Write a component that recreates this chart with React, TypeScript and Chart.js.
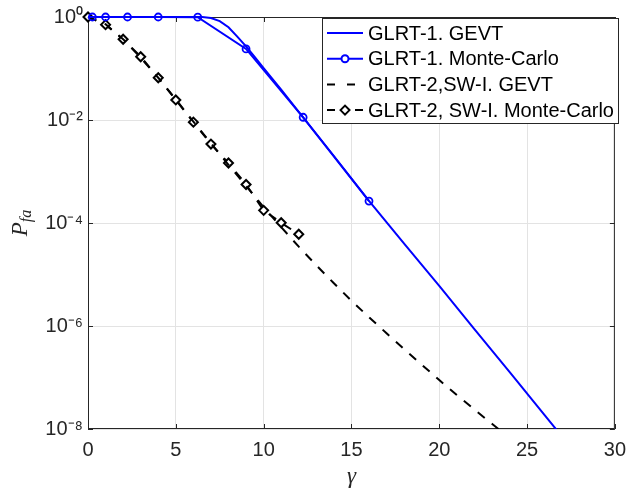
import React, { useEffect, useRef } from "react";
import { Chart, registerables } from "chart.js";

Chart.register(...registerables);

// ---- data ----
const seriesLabels = [
  "GLRT-1. GEVT",
  "GLRT-1. Monte-Carlo",
  "GLRT-2,SW-I. GEVT",
  "GLRT-2, SW-I. Monte-Carlo",
];

const gammaGevt1 = [0, 1, 2, 3, 4, 5, 6, 6.5, 7, 7.5, 8, 8.5, 9, 9.5, 10, 11, 12, 14, 16, 18, 20, 22, 24, 26, 28];
const pfaGevt1 = [1, 1, 1, 1, 1, 1, 1, 1, 0.955, 0.832, 0.631, 0.417, 0.269, 0.166, 0.102, 0.0389, 0.01445, 2.0e-3, 2.69e-4, 3.98e-5, 6.03e-6, 8.71e-7, 1.29e-7, 1.86e-8, 2.69e-9];

const gammaMc1 = [0.25, 1, 2.25, 4, 6.25, 9, 12.25, 16];
const pfaMc1 = [1, 1, 1, 1, 0.99, 0.24, 0.0113, 2.66e-4];

const gammaGevt2 = [0, 1, 2, 3, 4, 5, 6, 7, 8, 9, 10, 11, 12, 13, 14, 15, 16, 17, 18, 19, 20, 21, 22, 23, 24];
const pfaGevt2 = [1, 0.724, 0.372, 0.162, 0.0661, 0.0251, 9.33e-3, 3.55e-3, 1.35e-3, 5.25e-4, 2.04e-4, 8.32e-5, 3.47e-5, 1.51e-5, 6.76e-6, 3.09e-6, 1.48e-6, 7.24e-7, 3.55e-7, 1.78e-7, 8.91e-8, 4.57e-8, 2.4e-8, 1.26e-8, 6.76e-9];

const gammaMc2 = [0, 1, 2, 3, 4, 5, 6, 7, 8, 9, 10, 11, 12];
const pfaMc2 = [1, 0.71, 0.37, 0.169, 0.0662, 0.0245, 9.08e-3, 3.41e-3, 1.46e-3, 5.6e-4, 1.76e-4, 1.01e-4, 6.05e-5];

const xTickValues = [0, 5, 10, 15, 20, 25, 30];
const yTickExponents = [0, -2, -4, -6, -8];
const xTitle = "γ";
const yTitleMain = "P";
const yTitleSub = "fa";

// ---- styles ----
const BLUE = "#0000ff";
const AXIS = "#262626";
const GRID = "#e3e3e3";
const SANS = '"Liberation Sans", Arial, Helvetica, sans-serif';
const SERIF = '"Liberation Serif", "Times New Roman", serif';

const SUP: Record<string, string> = { "0": "⁰", "1": "¹", "2": "²", "4": "⁴", "6": "⁶", "8": "⁸", "-": "⁻" };
const toSup = (s: string) => s.split("").map((c) => SUP[c] ?? c).join("");

const zip = (xs: number[], ys: number[]) => xs.map((x, i) => ({ x, y: ys[i] }));

const framePlugin = {
  id: "frame",
  beforeDatasetsDraw(chart: any) {
    const { ctx, chartArea: a, scales } = chart;
    ctx.save();
    ctx.strokeStyle = AXIS;
    ctx.lineWidth = 1;
    ctx.strokeRect(a.left + 0.5, a.top + 0.5, a.right - a.left - 1, a.bottom - a.top - 1);
    ctx.beginPath();
    const tl = 5;
    xTickValues.forEach((v) => {
      const px = Math.round(scales.x.getPixelForValue(v)) + 0.5;
      ctx.moveTo(px, a.bottom);
      ctx.lineTo(px, a.bottom - tl);
      ctx.moveTo(px, a.top);
      ctx.lineTo(px, a.top + tl);
    });
    yTickExponents.forEach((e) => {
      const py = Math.round(scales.y.getPixelForValue(Math.pow(10, e))) + 0.5;
      ctx.moveTo(a.left, py);
      ctx.lineTo(a.left + tl, py);
      ctx.moveTo(a.right, py);
      ctx.lineTo(a.right - tl, py);
    });
    ctx.stroke();
    ctx.restore();
  },
  afterDraw(chart: any) {
    const { ctx, chartArea: a } = chart;
    // y-axis title P_fa (rotated)
    ctx.save();
    const cy = (a.top + a.bottom) / 2;
    ctx.translate(27, cy);
    ctx.rotate(-Math.PI / 2);
    ctx.fillStyle = AXIS;
    ctx.textBaseline = "alphabetic";
    ctx.font = `italic 23px ${SERIF}`;
    const wP = ctx.measureText(yTitleMain).width;
    ctx.font = `italic 16px ${SERIF}`;
    const wS = ctx.measureText(yTitleSub).width;
    const x0 = -(wP + wS) / 2;
    ctx.font = `italic 23px ${SERIF}`;
    ctx.fillText(yTitleMain, x0, 0);
    ctx.font = `italic 16px ${SERIF}`;
    ctx.fillText(yTitleSub, x0 + wP, 4);
    ctx.restore();

    // legend
    const L = 322, T = 18, W = 296, H = 105;
    ctx.save();
    ctx.fillStyle = "#ffffff";
    ctx.fillRect(L, T, W, H);
    ctx.strokeStyle = AXIS;
    ctx.lineWidth = 1;
    ctx.strokeRect(L + 0.5, T + 0.5, W, H);
    const rowY = (i: number) => T + 15 + i * 25.7;
    const x1 = 327, x2 = 363, xm = 345;
    seriesLabels.forEach((label, i) => {
      const y = rowY(i);
      ctx.lineWidth = 2;
      ctx.strokeStyle = i < 2 ? BLUE : "#000000";
      ctx.beginPath();
      if (i < 2) {
        ctx.moveTo(x1, y);
        ctx.lineTo(x2, y);
      } else if (i === 2) {
        ctx.moveTo(x1, y); ctx.lineTo(x1 + 8, y);
        ctx.moveTo(x1 + 20, y); ctx.lineTo(x1 + 28, y);
      } else {
        ctx.moveTo(x1, y); ctx.lineTo(x1 + 8, y);
        ctx.moveTo(x2 - 8, y); ctx.lineTo(x2, y);
      }
      ctx.stroke();
      if (i === 1) {
        ctx.beginPath();
        ctx.arc(xm, y, 3.5, 0, Math.PI * 2);
        ctx.fillStyle = "#ffffff";
        ctx.fill();
        ctx.stroke();
      } else if (i === 3) {
        const r = 4.5;
        ctx.beginPath();
        ctx.moveTo(xm - r, y);
        ctx.lineTo(xm, y - r);
        ctx.lineTo(xm + r, y);
        ctx.lineTo(xm, y + r);
        ctx.closePath();
        ctx.fillStyle = "#ffffff";
        ctx.fill();
        ctx.stroke();
      }
      ctx.fillStyle = "#000000";
      ctx.font = `20px ${SANS}`;
      ctx.textBaseline = "middle";
      ctx.textAlign = "left";
      ctx.fillText(label, 368, y + 1);
    });
    ctx.restore();
  },
};

export default function App() {
  const ref = useRef<HTMLCanvasElement | null>(null);

  useEffect(() => {
    if (!ref.current) return;
    const chart = new Chart(ref.current, {
      type: "line",
      data: {
        datasets: [
          {
            label: seriesLabels[0],
            data: zip(gammaGevt1, pfaGevt1),
            borderColor: BLUE,
            borderWidth: 2,
            pointRadius: 0,
            fill: false,
            clip: { left: 2, top: 3, right: 0, bottom: 0 } as any,
          },
          {
            label: seriesLabels[1],
            data: zip(gammaMc1, pfaMc1),
            borderColor: BLUE,
            borderWidth: 2,
            pointStyle: "circle",
            pointRadius: 3.5,
            pointBorderWidth: 1.8,
            pointBorderColor: BLUE,
            pointBackgroundColor: "rgba(255,255,255,0)",
            fill: false,
            clip: false as any,
          },
          {
            label: seriesLabels[2],
            data: zip(gammaGevt2, pfaGevt2),
            borderColor: "#000000",
            borderWidth: 2,
            borderDash: [9, 9],
            pointRadius: 0,
            fill: false,
            clip: { left: 2, top: 3, right: 0, bottom: 0 } as any,
          },
          {
            label: seriesLabels[3],
            data: zip(gammaMc2, pfaMc2),
            borderColor: "#000000",
            borderWidth: 2,
            borderDash: [9, 9],
            pointStyle: "rectRot",
            pointRadius: 4.5,
            pointBorderWidth: 2,
            pointBorderColor: "#000000",
            pointBackgroundColor: "#ffffff",
            fill: false,
            clip: false as any,
          },
        ],
      },
      options: {
        animation: false,
        responsive: false,
        devicePixelRatio: 1,
        layout: { padding: { left: 0, top: 15, right: 13, bottom: 0 } },
        plugins: {
          legend: { display: false },
          tooltip: { enabled: false },
        },
        elements: { line: { tension: 0 } },
        scales: {
          x: {
            type: "linear",
            min: 0,
            max: 30,
            ticks: {
              stepSize: 5,
              color: AXIS,
              font: { family: SANS, size: 20 },
              padding: 9,
              maxRotation: 0,
            },
            grid: { color: GRID, drawTicks: false, lineWidth: 1 },
            border: { display: false },
            title: {
              display: true,
              text: xTitle,
              color: AXIS,
              font: { family: SERIF, size: 23, style: "italic" },
              padding: { top: 0, bottom: 2 },
            },
            afterFit: (scale: any) => {
              scale.height = 64;
            },
          },
          y: {
            type: "logarithmic",
            min: 1e-8,
            max: 1,
            afterBuildTicks: (scale: any) => {
              scale.ticks = yTickExponents.map((e) => ({ value: Math.pow(10, e), major: true }));
            },
            ticks: {
              color: AXIS,
              font: { family: SANS, size: 20 },
              padding: 5,
              autoSkip: false,
              callback: (value: any) => "10" + toSup(String(Math.round(Math.log10(Number(value))))),
            },
            grid: { color: GRID, drawTicks: false, lineWidth: 1 },
            border: { display: false },
            afterFit: (scale: any) => {
              scale.width = 88;
            },
          },
        },
      },
      plugins: [framePlugin],
    });
    return () => chart.destroy();
  }, []);

  return (
    <div style={{ position: "absolute", left: 0, top: 0, width: 635, height: 493, background: "#ffffff" }}>
      <canvas ref={ref} width={635} height={493} />
    </div>
  );
}
